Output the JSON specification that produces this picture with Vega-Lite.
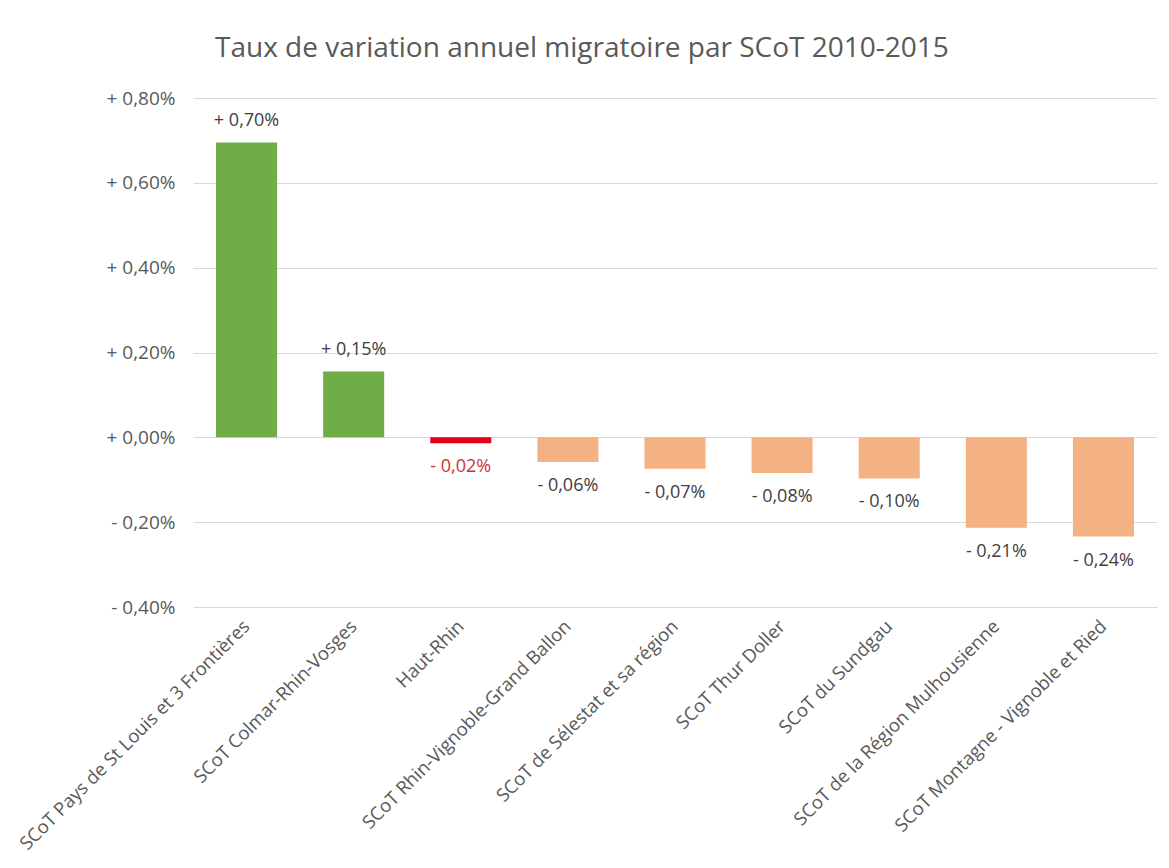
{
  "$schema": "https://vega.github.io/schema/vega-lite/v6.json",
  "width": 964,
  "height": 509,
  "autosize": {"type": "none"},
  "padding": {"left": 193, "top": 98, "right": 12, "bottom": 261},
  "background": "white",
  "title": {
    "text": "Taux de variation annuel migratoire par SCoT 2010-2015",
    "anchor": "start",
    "frame": "group",
    "dx": 22,
    "offset": 4,
    "baseline": "alphabetic",
    "font": "Open Sans",
    "fontSize": 28,
    "fontWeight": "normal",
    "color": "#595959"
  },
  "config": {
    "view": {"stroke": null},
    "font": "Open Sans"
  },
  "data": {
    "values": [
      {"scot": "SCoT Pays de St Louis et 3 Frontières", "taux": 0.695, "etiquette": "+ 0,70%", "type": "pos"},
      {"scot": "SCoT Colmar-Rhin-Vosges", "taux": 0.155, "etiquette": "+ 0,15%", "type": "pos"},
      {"scot": "Haut-Rhin", "taux": -0.014, "etiquette": "- 0,02%", "type": "haut"},
      {"scot": "SCoT Rhin-Vignoble-Grand Ballon", "taux": -0.058, "etiquette": "- 0,06%", "type": "neg"},
      {"scot": "SCoT de Sélestat et sa région", "taux": -0.074, "etiquette": "- 0,07%", "type": "neg"},
      {"scot": "SCoT Thur Doller", "taux": -0.084, "etiquette": "- 0,08%", "type": "neg"},
      {"scot": "SCoT du Sundgau", "taux": -0.097, "etiquette": "- 0,10%", "type": "neg"},
      {"scot": "SCoT de la Région Mulhousienne", "taux": -0.213, "etiquette": "- 0,21%", "type": "neg"},
      {"scot": "SCoT Montagne - Vignoble et Ried", "taux": -0.234, "etiquette": "- 0,24%", "type": "neg"}
    ]
  },
  "encoding": {
    "x": {
      "field": "scot",
      "type": "nominal",
      "sort": null,
      "scale": {"paddingInner": 0.43, "paddingOuter": 0.215},
      "axis": {
        "title": null,
        "domain": false,
        "ticks": false,
        "labelAngle": -45,
        "labelAlign": "right",
        "labelBaseline": "middle",
        "labelPadding": 16,
        "labelFontSize": 18.5,
        "labelColor": "#595959",
        "labelLimit": 0
      }
    },
    "y": {
      "field": "taux",
      "type": "quantitative",
      "scale": {"domain": [-0.4, 0.8], "nice": false, "zero": false},
      "axis": {
        "title": null,
        "domain": false,
        "ticks": false,
        "values": [-0.4, -0.2, 0, 0.2, 0.4, 0.6, 0.8],
        "grid": true,
        "gridColor": "#d9d9d9",
        "gridWidth": 1,
        "labelPadding": 18,
        "labelFontSize": 19,
        "labelColor": "#595959",
        "labelExpr": "(datum.value >= 0 ? '+ ' : '- ') + replace(format(abs(datum.value), '.2f'), '.', ',') + '%'"
      }
    }
  },
  "layer": [
    {
      "mark": {"type": "bar"},
      "encoding": {
        "color": {
          "field": "type",
          "type": "nominal",
          "scale": {"domain": ["pos", "haut", "neg"], "range": ["#70AD47", "#E3001B", "#F4B183"]},
          "legend": null
        }
      }
    },
    {
      "transform": [{"filter": "datum.taux >= 0"}],
      "mark": {"type": "text", "baseline": "alphabetic", "dy": -17, "fontSize": 18, "color": "#404040"},
      "encoding": {"text": {"field": "etiquette"}}
    },
    {
      "transform": [{"filter": "datum.taux < 0"}],
      "mark": {"type": "text", "baseline": "alphabetic", "dy": 29, "fontSize": 18},
      "encoding": {
        "text": {"field": "etiquette"},
        "color": {
          "condition": {"test": "datum.type === 'haut'", "value": "#D0303A"},
          "value": "#404040"
        }
      }
    }
  ]
}
